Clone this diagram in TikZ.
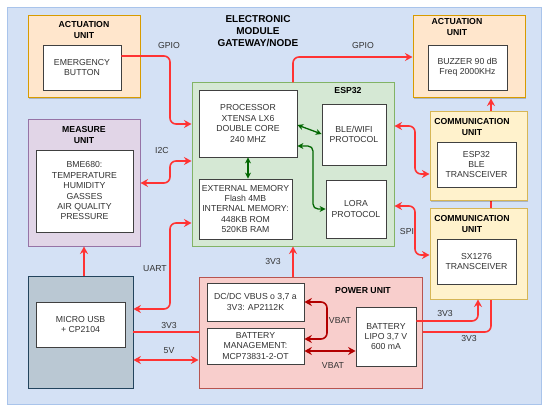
\documentclass[tikz,border=0pt]{standalone}
\usepackage{fontspec}
\setmainfont{Liberation Sans}
\usetikzlibrary{arrows.meta,shadows}
\pgfdeclarelayer{back}
\pgfsetlayers{back,main}

\definecolor{bgblue}{HTML}{D4E1F5}
\definecolor{bgline}{HTML}{A9C4EB}
\definecolor{actfill}{HTML}{FFE6CC}
\definecolor{actline}{HTML}{D79B00}
\definecolor{comfill}{HTML}{FFF2CC}
\definecolor{comline}{HTML}{D6B656}
\definecolor{mesfill}{HTML}{E1D5E7}
\definecolor{mesline}{HTML}{9673A6}
\definecolor{usbfill}{HTML}{BAC8D3}
\definecolor{usbline}{HTML}{23445D}
\definecolor{espfill}{HTML}{D5E8D4}
\definecolor{espline}{HTML}{82B366}
\definecolor{pwrfill}{HTML}{F8CECC}
\definecolor{pwrline}{HTML}{B85450}
\definecolor{sigred}{HTML}{FF3333}
\definecolor{vbatred}{HTML}{B20000}
\definecolor{busgreen}{HTML}{006600}
\definecolor{txtgray}{HTML}{333333}

\begin{document}
\begin{tikzpicture}[
		x=1pt, y=-1pt,
		font=\fontsize{8.7}{10.4}\selectfont,
		>={Stealth[length=7.5pt,width=8pt]},
		shade/.style={drop shadow={shadow xshift=1.2pt, shadow yshift=-1.2pt, opacity=0.2, fill=black}},
		unit/.style={rectangle, line width=1pt, inner sep=0pt, shade},
		blk/.style={rectangle, draw=black!75, fill=white, line width=0.8pt, inner sep=0pt, align=center, text=txtgray, shade},
		title/.style={font=\fontsize{8.7}{10.4}\selectfont\bfseries, align=center},
		lbl/.style={text=txtgray, inner sep=1pt},
		sig/.style={draw=sigred, line width=1.6pt, rounded corners=6pt},
		vbat/.style={draw=vbatred, line width=1.6pt, rounded corners=6pt},
		bus/.style={draw=busgreen, line width=1.3pt, rounded corners=5pt,
			>={Stealth[length=6pt,width=6pt]}}
		]
		
		% Picture size
		\useasboundingbox (0,0) rectangle (550,412);
		
		% Title
		\node[title, font=\fontsize{10}{12}\selectfont\bfseries] (head) at (258,31)
			{ELECTRONIC\\MODULE\\GATEWAY/NODE};
		
		% Left column
		\node[unit, fill=actfill, draw=actline, minimum width=112pt, minimum height=82pt] (actL) at (84,57) {};
		\node[title] (actLt) at (84,30) {ACTUATION\\UNIT};
		\node[blk, minimum width=78pt, minimum height=45pt] (emerg) at (82,67.5) {EMERGENCY\\BUTTON};
		
		\node[unit, fill=mesfill, draw=mesline, minimum width=112pt, minimum height=126pt] (measure) at (84,183) {};
		\node[title] (measuret) at (84,135) {MEASURE\\UNIT};
		\node[blk, minimum width=97pt, minimum height=82pt] (bme) at (84.5,191)
			{BME680:\\TEMPERATURE\\HUMIDITY\\GASSES\\AIR QUALITY\\PRESSURE};
		
		\node[unit, fill=usbfill, draw=usbline, line width=0.8pt, minimum width=105pt, minimum height=112pt] (usbunit) at (80.5,332) {};
		\node[blk, minimum width=89pt, minimum height=45pt] (usb) at (80.5,324.5) {MICRO USB\\+ CP2104};
		
		% ESP32
		\node[unit, fill=espfill, draw=espline, minimum width=202pt, minimum height=163pt] (esp) at (293,164.5) {};
		\node[title] (espt) at (348,91) {ESP32};
		\node[blk, minimum width=98pt, minimum height=67pt] (proc) at (248,123.5)
			{PROCESSOR\\XTENSA LX6\\DOUBLE CORE\\240 MHZ};
		\node[blk, minimum width=93pt, minimum height=60pt] (mem) at (245.5,209)
			{EXTERNAL MEMORY\\Flash 4MB\\INTERNAL MEMORY:\\448KB ROM\\520KB RAM};
		\node[blk, minimum width=64pt, minimum height=61pt] (ble) at (354,134.5) {BLE/WIFI\\PROTOCOL};
		\node[blk, minimum width=60pt, minimum height=58pt] (lora) at (356,209) {LORA\\PROTOCOL};
		
		% Power unit
		\node[unit, fill=pwrfill, draw=pwrline, minimum width=223pt, minimum height=111pt] (power) at (310.5,332.5) {};
		\node[title] (powert) at (363,291) {POWER UNIT};
		\node[blk, minimum width=97pt, minimum height=38pt] (dcdc) at (255.5,302)
			{DC/DC VBUS o 3,7 a\\3V3: AP2112K};
		\node[blk, minimum width=97pt, minimum height=36pt] (bms) at (255.5,346)
			{BATTERY\\MANAGEMENT:\\MCP73831-2-OT};
		\node[blk, minimum width=60pt, minimum height=59pt] (batt) at (386,336.5)
			{BATTERY\\LIPO 3,7 V\\600 mA};
		
		% Right column
		\node[unit, fill=actfill, draw=actline, minimum width=112pt, minimum height=82pt] (actR) at (469,57) {};
		\node[title] (actRt) at (457,27) {ACTUATION\\UNIT};
		\node[blk, minimum width=79pt, minimum height=45pt] (buzzer) at (467.5,67.5) {BUZZER 90 dB\\Freq 2000KHz};
		
		\node[unit, fill=comfill, draw=comline, minimum width=97pt, minimum height=89pt] (comA) at (478.5,156.5) {};
		\node[title] (comAt) at (472,127) {COMMUNICATION\\UNIT};
		\node[blk, minimum width=79pt, minimum height=45pt] (bletx) at (476.5,164.5) {ESP32\\BLE\\TRANSCEIVER};
		
		\node[unit, fill=comfill, draw=comline, minimum width=97pt, minimum height=90pt] (comB) at (478.5,254) {};
		\node[title] (comBt) at (472,224) {COMMUNICATION\\UNIT};
		\node[blk, minimum width=79pt, minimum height=45pt] (sx) at (476.5,261.5) {SX1276\\TRANSCEIVER};
		
		% Red signal lines
		\draw[sig, ->] ([yshift=11.5pt]emerg.east) -- (170,56) -- (170,124) -- (esp.west |- 0,124);
		\draw[sig, <->] (esp.west |- 0,161) -- (170,161) -- (170,183) -- (measure.east |- 0,183);
		\draw[sig, <->] (esp.west |- 0,223) -- (170,223) -- (170,309) -- (usbunit.east |- 0,309);
		\draw[sig] (usbunit.east |- 0,332) -- (power.west |- 0,332);
		\draw[sig, <->] (usbunit.east |- 0,360) -- (power.west |- 0,360);
		\draw[sig, ->] (measure.south |- usbunit.north) -- (measure.south);
		\draw[sig, ->] (esp.south |- power.north) -- (esp.south);
		\draw[sig, ->] (esp.north) -- (293,57) -- (actR.west |- 0,57);
		\draw[sig, <->] (esp.east |- 0,126) -- (415,126) -- (415,174) -- (comA.west |- 0,174);
		\draw[sig, <->] (esp.east |- 0,206) -- (415,206) -- (415,255) -- (comB.west |- 0,255);
		\draw[sig, ->] (batt.east |- 0,321) -- (478,321) -- (478,299) -- (comB.south -| 478,0);
		
		% Green bus lines
		\draw[bus, <->] (proc.south) -- (proc.south |- mem.north);
		\draw[bus, <->] (proc.east |- 0,125) -- (ble.west |- 0,134);
		\draw[bus, <->] (proc.east |- 0,146) -- (313,146) -- (313,209) -- (lora.west);
		
		% Battery lines
		\draw[vbat, <->] (dcdc.east) -- (327,302) -- (327,339) -- (bms.east |- 0,339);
		\draw[vbat, <->] (bms.east |- 0,351) -- (batt.west |- 0,351);
		
		% Labels
		\node[lbl] (l1) at (169,46) {GPIO};
		\node[lbl] (l2) at (162,151) {I2C};
		\node[lbl] (l3) at (155,269) {UART};
		\node[lbl] (l4) at (169,326) {3V3};
		\node[lbl] (l5) at (169,351) {5V};
		\node[lbl] (l6) at (273,262) {3V3};
		\node[lbl] (l7) at (363,46) {GPIO};
		\node[lbl] (l8) at (407,232) {SPI};
		\node[lbl] (l9) at (445,314) {3V3};
		\node[lbl] (l10) at (469,339) {3V3};
		\node[lbl] (l11) at (340,321) {VBAT};
		\node[lbl] (l12) at (333,366) {VBAT};
		
		% Module frame and the line behind the units
		\begin{pgfonlayer}{back}
			\node[rectangle, fill=bgblue, draw=bgline, line width=1pt, minimum width=534pt, minimum height=396pt] (module) at (274,206) {};
			\draw[sig, ->] (batt.east |- 0,332) -- (491,332) -- (491,98) -- (actR.south -| 491,0);
		\end{pgfonlayer}
		
	\end{tikzpicture}
\end{document}
